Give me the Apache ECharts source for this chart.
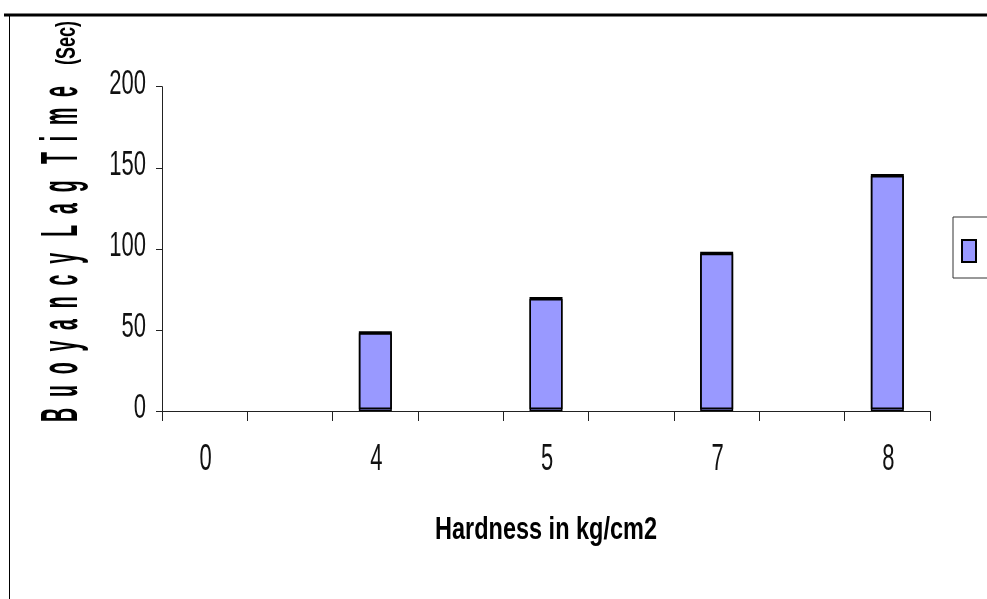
<!DOCTYPE html>
<html>
<head>
<meta charset="utf-8">
<style>
  html, body { margin: 0; padding: 0; background: #fff; }
  #chart { width: 987px; height: 599px; }
</style>
<script src="https://cdn.jsdelivr.net/npm/echarts@6/dist/echarts.min.js"></script>
</head>
<body>
<div id="chart"></div>
<script>
// Hardness categories and buoyancy lag time (seconds)
var hardness = ['0', '4', '5', '7', '8'];
var lagTime = [0, 48, 69, 97, 145];
var yTickLabels = ['0', '50', '100', '150', '200'];
var yTicks = { min: 0, max: 200, interval: 50 };

// Each hardness slot is followed by an empty slot on the category axis
var axisCats = [];
var axisVals = [];
hardness.forEach(function (h, i) {
  axisCats.push(h);
  var v = lagTime[i];
  // a zero-height bar draws no outline
  axisVals.push(v === 0
    ? { value: v, itemStyle: { borderWidth: 0, shadowColor: 'rgba(0,0,0,0)' } }
    : v);
  if (i < hardness.length - 1) {
    axisCats.push(' ');
    axisVals.push(null);
  }
});

var labelFont = "22px 'Liberation Sans', Arial, sans-serif";
var boldFont = "'Liberation Sans', Arial, sans-serif";

var chart = echarts.init(document.getElementById('chart'), null, { renderer: 'canvas' });
chart.setOption({
  animation: false,
  backgroundColor: '#fff',
  grid: { left: 162, top: 86.7, right: 57, bottom: 188, containLabel: false },
  legend: {
    show: true,
    left: 953,
    top: 217,
    orient: 'vertical',
    padding: [22, 10, 15, 8],
    borderColor: '#333',
    borderWidth: 1,
    backgroundColor: '#fff',
    itemWidth: 14,
    itemHeight: 22,
    icon: 'rect',
    textStyle: { fontSize: 14, color: '#000', padding: [0, 0, 0, 60] },
    data: ['Lag time']
  },
  xAxis: {
    type: 'category',
    data: axisCats,
    boundaryGap: true,
    axisLine: { lineStyle: { color: '#222', width: 1 } },
    axisTick: { show: true, interval: 0, length: 10, lineStyle: { color: '#222', width: 1 } },
    axisLabel: { show: false },
    splitLine: { show: false }
  },
  yAxis: {
    type: 'value',
    min: yTicks.min,
    max: yTicks.max,
    interval: yTicks.interval,
    axisLine: { show: true, lineStyle: { color: '#222', width: 1 } },
    axisTick: { show: true, length: 6, lineStyle: { color: '#222', width: 1 } },
    axisLabel: { show: false },
    splitLine: { show: false }
  },
  series: [{
    name: 'Lag time',
    type: 'bar',
    data: axisVals,
    barWidth: 33,
    itemStyle: {
      color: '#9999ff',
      borderColor: '#000',
      borderWidth: 1.5,
      shadowColor: '#000',
      shadowBlur: 0,
      shadowOffsetX: 0,
      shadowOffsetY: -2
    }
  }]
});

// Tall, narrow tick labels placed at the axis positions
var graphics = [
  // frame lines
  { type: 'line', shape: { x1: 4, y1: 15, x2: 987, y2: 15 }, style: { stroke: '#000', lineWidth: 3 } },
  { type: 'line', shape: { x1: 9.5, y1: 15, x2: 9.5, y2: 599 }, style: { stroke: '#000', lineWidth: 1 } },
  // y-axis title
  {
    type: 'text', x: 89, y: 422, rotation: Math.PI / 2, scaleX: 0.75, scaleY: 2,
    style: {
      text: 'B  u  o  y  a  n  c  y   L  a  g   T  i  m  e',
      font: 'bold 26px ' + boldFont,
      fill: '#000', textAlign: 'left', textVerticalAlign: 'bottom'
    }
  },
  {
    type: 'text', x: 81, y: 65, rotation: Math.PI / 2, scaleX: 1, scaleY: 1.5,
    style: {
      text: '(Sec)',
      font: 'bold 18px ' + boldFont,
      fill: '#000', textAlign: 'left', textVerticalAlign: 'bottom'
    }
  },
  // x-axis title
  {
    type: 'text', x: 546, y: 547, scaleX: 1, scaleY: 1.37,
    style: {
      text: 'Hardness in kg/cm2',
      font: 'bold 23.5px ' + boldFont,
      fill: '#000', textAlign: 'center', textVerticalAlign: 'bottom'
    }
  }
];

var axisX = chart.convertToPixel({ gridIndex: 0 }, [0, 0]);
yTickLabels.forEach(function (t) {
  var py = chart.convertToPixel({ yAxisIndex: 0 }, Number(t));
  graphics.push({
    type: 'text', x: 146, y: py - 2.5, scaleY: 1.6,
    style: { text: t, font: labelFont, fill: '#111', textAlign: 'right', textVerticalAlign: 'middle' }
  });
});
hardness.forEach(function (h, i) {
  var px = chart.convertToPixel({ xAxisIndex: 0 }, i * 2);
  graphics.push({
    type: 'text', x: px + 1, y: axisX[1] + 49, scaleY: 1.7,
    style: { text: h, font: labelFont, fill: '#111', textAlign: 'center', textVerticalAlign: 'middle' }
  });
});

chart.setOption({ graphic: graphics });
</script>
</body>
</html>
